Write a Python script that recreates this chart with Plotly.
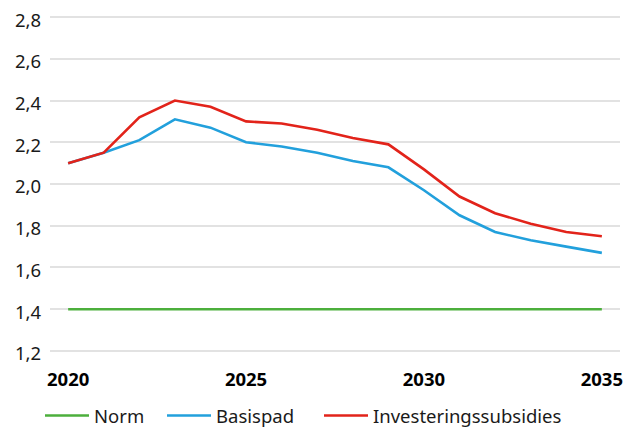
import plotly.graph_objects as go

# Data
years = list(range(2020, 2036))
norm = [1.40] * 16
basispad = [2.10, 2.15, 2.21, 2.31, 2.27, 2.20, 2.18, 2.15, 2.11, 2.08,
            1.97, 1.85, 1.77, 1.73, 1.70, 1.67]
investeringssubsidies = [2.10, 2.15, 2.32, 2.40, 2.37, 2.30, 2.29, 2.26, 2.22, 2.19,
                         2.07, 1.94, 1.86, 1.81, 1.77, 1.75]
x_ticks = [2020, 2025, 2030, 2035]
y_ticks = [1.2, 1.4, 1.6, 1.8, 2.0, 2.2, 2.4, 2.6, 2.8]

# page body keeps its default 8px margin, so the figure sits 8px in from the corner
W, H = 619, 422

fig = go.Figure()
fig.add_trace(go.Scatter(x=years, y=norm, name='Norm', mode='lines', legend='legend',
                         line=dict(color='#4CAF3C', width=2.6)))
fig.add_trace(go.Scatter(x=years, y=basispad, name='Basispad', mode='lines', legend='legend2',
                         line=dict(color='#22A0DC', width=2.6)))
fig.add_trace(go.Scatter(x=years, y=investeringssubsidies, name='Investeringssubsidies',
                         mode='lines', legend='legend3',
                         line=dict(color='#E2231A', width=2.6)))

# one legend per series so the spacing can follow the reference
def leg(px):
    return dict(orientation='h', xref='container', yref='container',
                x=px / W, xanchor='left', y=(H - 408) / H, yanchor='middle',
                itemwidth=44,
                font=dict(size=18.5, color='#1a1a1a'), bgcolor='rgba(0,0,0,0)')

fig.update_layout(
    width=W, height=H,
    margin=dict(l=42, r=7, t=8, b=78),
    plot_bgcolor='white', paper_bgcolor='white',
    font=dict(family='Noto Sans, sans-serif', size=18.5, color='#1a1a1a'),
    showlegend=True,
    legend=leg(32), legend2=leg(154), legend3=leg(311),
)
fig.update_xaxes(range=[2019.49, 2035.51], tickvals=x_ticks,
                 ticktext=['<b>%d</b>' % t for t in x_ticks],
                 showgrid=False, zeroline=False, showline=False, automargin=False,
                 ticklabeloverflow='allow',
                 ticklabelstandoff=14, tickfont=dict(size=18.5, color='#000'))
fig.update_yaxes(range=[1.195, 2.805], tickvals=y_ticks,
                 ticktext=[('%.1f' % v).replace('.', ',') for v in y_ticks],
                 showgrid=True, gridcolor='#e2e2e2', gridwidth=1.5, automargin=False,
                 ticklabeloverflow='allow', ticklabelshift=3,
                 zeroline=False, showline=False, ticklabelstandoff=8)

fig.write_html("out.html")
